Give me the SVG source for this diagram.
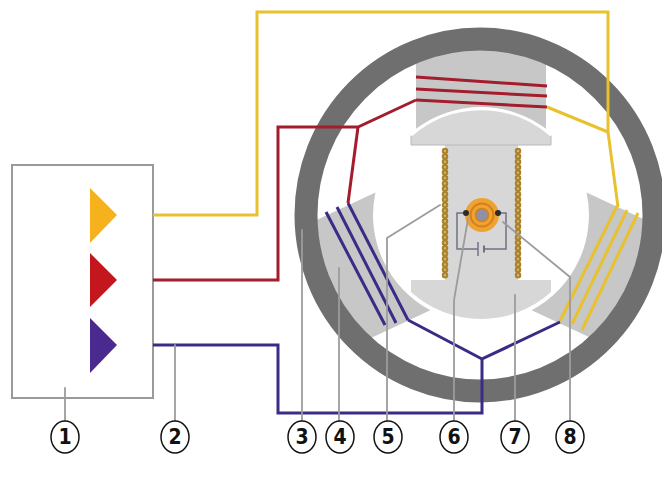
<svg xmlns="http://www.w3.org/2000/svg" width="662" height="477" viewBox="0 0 662 477">
  <style>
    .pole { fill: #c7c7c7; }
    .iron { fill: #d7d7d7; }
    .wire { fill: none; stroke-width: 3; stroke-linejoin: miter; }
    .yel { stroke: #e8c22e; }
    .red { stroke: #a31d2c; }
    .blu { stroke: #3b2a86; }
    .coil { fill: none; stroke-width: 3; stroke-linecap: butt; }
    .lead { fill: none; stroke: #9c9c9c; stroke-width: 1.8; stroke-linecap: round; }
    .beads { fill: none; stroke: #a9822f; stroke-width: 6.5; stroke-linecap: round; stroke-dasharray: 0 5.4; }
    .beadhi { fill: none; stroke: #d9b45c; stroke-width: 2.4; stroke-linecap: round; stroke-dasharray: 0 5.4; }
    .circ { fill: none; stroke: #6f7286; stroke-width: 1.5; }
    .num ellipse { fill: #fff; stroke: #111; stroke-width: 1.5; }
    .num text { font-family: "Liberation Sans Narrow", "DejaVu Sans Condensed", "Liberation Sans", sans-serif; font-weight: bold; font-size: 21px; text-anchor: middle; fill: #111; }
  </style>
  <defs>
    <!-- pole piece pointing up, concave face on a 108 radius about the rotor axis -->
    <path id="polePiece" d="M416,45 V128.8 A108,108 0 0 1 546,128.8 V45 Z"/>
  </defs>

  <!-- power supply -->
  <g id="supply">
    <rect x="12" y="165" width="141" height="233" fill="#fff" stroke="#9a9a9a" stroke-width="2"/>
    <polygon points="90,188 117,215 90,243" fill="#f5b21c"/>
    <polygon points="90,253 117,280 90,307" fill="#c4171d"/>
    <polygon points="90,318 117,345 90,373" fill="#4a2a8e"/>
  </g>

  <!-- stator: three poles inside the yoke ring -->
  <g id="stator">
    <use href="#polePiece" class="pole"/>
    <use href="#polePiece" class="pole" transform="rotate(-115 481 215)"/>
    <use href="#polePiece" class="pole" transform="rotate(115 481 215)"/>
    <g id="coil-top" class="coil red">
      <path d="M416,77 L547,86"/>
      <path d="M416,89 L547,96"/>
      <path d="M416,100 L547,107"/>
    </g>
    <g id="coil-left" class="coil blu">
      <path d="M326,212 L385,325"/>
      <path d="M337,207 L396,323"/>
      <path d="M348,203 L408,320"/>
    </g>
    <g id="coil-right" class="coil yel">
      <path d="M617,206 L560,321"/>
      <path d="M627,210 L572,324"/>
      <path d="M638,213 L582,330"/>
    </g>
    <ellipse cx="480" cy="215" rx="174" ry="176" fill="none" stroke="#6f6f6f" stroke-width="23"/>
  </g>

  <!-- armature with its two shoes -->
  <g id="armature">
    <rect x="445" y="140" width="73" height="145" class="iron"/>
    <path d="M411,145 V135.4 A106,106 0 0 1 551,135.4 V145 Z" class="iron" stroke="#b9b9b9" stroke-width="1"/>
    <path d="M411,135.4 A106,106 0 0 1 551,135.4" fill="none" stroke="#fff" stroke-width="2.5"/>
    <path d="M411,280 H551 V292 A104,104 0 0 1 411,292 Z" class="iron"/>
    <path d="M445,151 V278" class="beads"/>
    <path d="M518,151 V278" class="beads"/>
    <path d="M445,151 V278" class="beadhi"/>
    <path d="M518,151 V278" class="beadhi"/>
  </g>

  <!-- rotor with its contact circuit -->
  <g id="rotor">
    <path d="M466,213 H457 V249 H478 M484,249 H506 V213 H498" class="circ"/>
    <path d="M478,242 V256" stroke="#6f7286" stroke-width="1.5"/>
    <path d="M484,245.5 V252.5" stroke="#6f7286" stroke-width="2"/>
    <circle cx="482" cy="215" r="17" fill="#efa231"/>
    <circle cx="482" cy="215" r="11.5" fill="none" stroke="#d5811b" stroke-width="2"/>
    <circle cx="482" cy="215" r="6.5" fill="#8f8fa6" stroke="#d5811b" stroke-width="1.5"/>
    <circle cx="466" cy="213" r="3" fill="#2b2b2b"/>
    <circle cx="498" cy="213" r="3" fill="#2b2b2b"/>
  </g>

  <!-- supply wiring -->
  <g id="connectors" class="wire">
    <path class="yel" d="M153,215 H257 V12 H608 V132 L618,207"/>
    <path class="yel" d="M547,107 L608,132"/>
    <path class="red" d="M153,280 H278 V127 H358 L416,100"/>
    <path class="red" d="M358,127 L348,203"/>
    <path class="blu" d="M153,345 H278 V413 H482 V359 L560,322"/>
    <path class="blu" d="M482,359 L408,320"/>
  </g>

  <!-- callout leaders -->
  <g id="leaders" class="lead">
    <path d="M65,388 V422"/>
    <path d="M175,345 V422"/>
    <path d="M302,230 V422"/>
    <path d="M339,268 V422"/>
    <path d="M440,205 L387,238 V422"/>
    <path d="M468,219 L454,300 V422"/>
    <path d="M515,295 V422"/>
    <path d="M503,222 L570,277 V422"/>
  </g>

  <g id="label-1" class="num"><ellipse cx="65" cy="437" rx="14" ry="16"/><text x="65" y="444">1</text></g>
  <g id="label-2" class="num"><ellipse cx="175" cy="437" rx="14" ry="16"/><text x="175" y="444">2</text></g>
  <g id="label-3" class="num"><ellipse cx="302" cy="437" rx="14" ry="16"/><text x="302" y="444">3</text></g>
  <g id="label-4" class="num"><ellipse cx="340" cy="437" rx="14" ry="16"/><text x="340" y="444">4</text></g>
  <g id="label-5" class="num"><ellipse cx="388" cy="437" rx="14" ry="16"/><text x="388" y="444">5</text></g>
  <g id="label-6" class="num"><ellipse cx="454" cy="437" rx="14" ry="16"/><text x="454" y="444">6</text></g>
  <g id="label-7" class="num"><ellipse cx="515" cy="437" rx="14" ry="16"/><text x="515" y="444">7</text></g>
  <g id="label-8" class="num"><ellipse cx="570" cy="437" rx="14" ry="16"/><text x="570" y="444">8</text></g>
</svg>
